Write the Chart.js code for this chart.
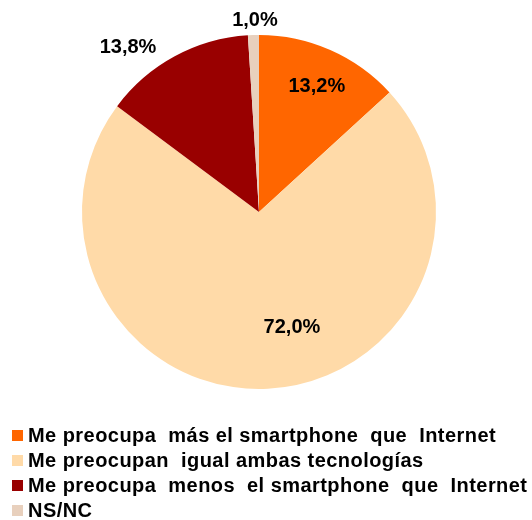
<!DOCTYPE html>
<html>
<head>
<meta charset="utf-8">
<script src="https://cdn.jsdelivr.net/npm/chart.js@4"></script>
<style>
  html, body { margin: 0; padding: 0; background: #fff; }
  #wrap { width: 532px; height: 520px; position: relative; }
</style>
</head>
<body>
<div id="wrap"><canvas id="chart" width="532" height="520"></canvas></div>
<script>
// --- Data ---
const categories = [
  'Me preocupa  más el smartphone  que  Internet',
  'Me preocupan  igual ambas tecnologías',
  'Me preocupa  menos  el smartphone  que  Internet',
  'NS/NC'
];
const shares = [13.2, 72.0, 13.8, 1.0];
const sliceColors = ['#ff6600', '#ffdaa8', '#990000', '#e8d0bd'];

// label placement around each slice: radius factor + angle tweak (deg)
const labelPlacement = [
  { f: 0.78, da: 1 },
  { f: 0.68, da: -13 },
  { f: 1.19, da: -10 },
  { f: 1.085, da: 0.6 }
];

const fmt = v => v.toFixed(1).replace('.', ',') + '%';

const labelsPlugin = {
  id: 'sliceLabels',
  afterDatasetsDraw(chart) {
    const ctx = chart.ctx;
    const arcs = chart.getDatasetMeta(0).data;
    ctx.save();
    ctx.font = 'bold 20px "Liberation Sans", Arial, sans-serif';
    ctx.fillStyle = '#000';
    ctx.textAlign = 'center';
    ctx.textBaseline = 'middle';
    arcs.forEach((arc, i) => {
      const p = labelPlacement[i];
      const mid = (arc.startAngle + arc.endAngle) / 2 + p.da * Math.PI / 180;
      const r = arc.outerRadius * p.f;
      ctx.fillText(fmt(shares[i]), arc.x + Math.cos(mid) * r, arc.y + Math.sin(mid) * r);
    });
    ctx.restore();
  }
};

const legendPlugin = {
  id: 'bottomLegend',
  afterDraw(chart) {
    const ctx = chart.ctx;
    ctx.save();
    ctx.font = 'bold 20px "Liberation Sans", Arial, sans-serif';
    ctx.letterSpacing = '0.45px';
    ctx.textBaseline = 'middle';
    ctx.textAlign = 'left';
    categories.forEach((c, i) => {
      const y = 435 + i * 25;
      ctx.fillStyle = sliceColors[i];
      ctx.fillRect(12, y - 5, 11, 11);
      ctx.fillStyle = '#000';
      ctx.fillText(c, 28, y + 1);
    });
    ctx.restore();
  }
};

new Chart(document.getElementById('chart'), {
  type: 'pie',
  data: {
    labels: categories,
    datasets: [{
      data: shares,
      backgroundColor: sliceColors,
      borderWidth: 0
    }]
  },
  options: {
    responsive: false,
    animation: false,
    layout: { padding: { top: 35, bottom: 131, left: 82, right: 96 } },
    plugins: {
      legend: { display: false },
      tooltip: { enabled: false }
    }
  },
  plugins: [labelsPlugin, legendPlugin]
});
</script>
</body>
</html>
